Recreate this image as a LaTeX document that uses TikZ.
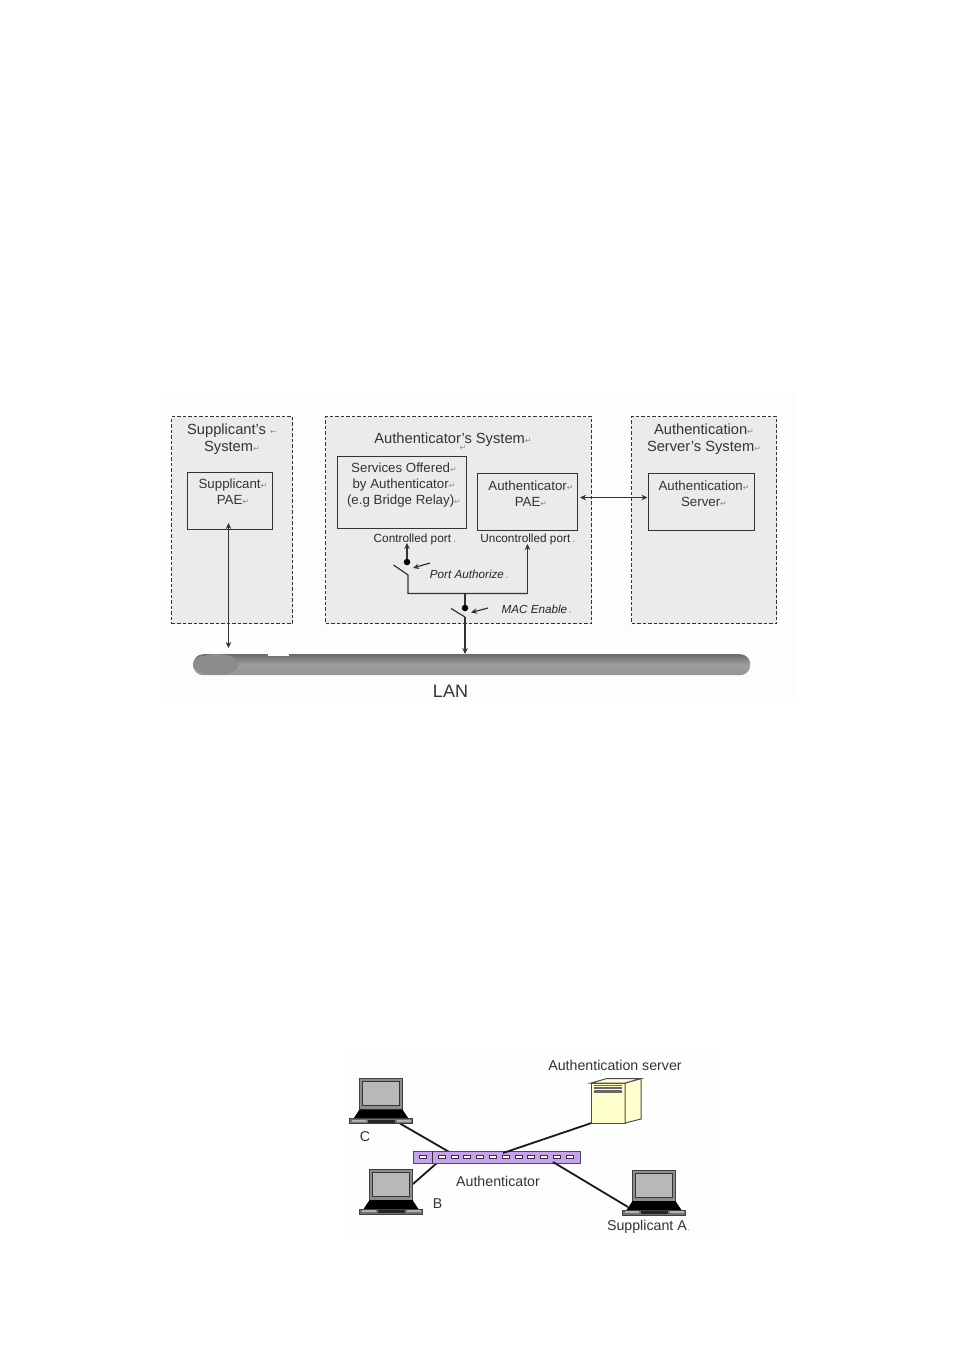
\documentclass[tikz,border=0pt]{standalone}
\usepackage{fontspec}
\setmainfont{Liberation Sans}
\newfontfamily\markfont{DejaVu Sans}
\usetikzlibrary{arrows.meta,shapes.geometric}
\newcommand{\rt}{{\markfont\fontsize{8}{8}\selectfont\textcolor{black!45}{↵}}}
\definecolor{panel}{HTML}{EBEBEB}
\definecolor{linec}{HTML}{333333}
\definecolor{purp}{HTML}{C9A0F0}
\definecolor{cream}{HTML}{FFFFCC}
\tikzset{
  sysbox/.style={draw=linec,fill=panel,dash pattern=on 3.5pt off 2pt,line width=1pt},
  inbox/.style={draw=linec,line width=1.2pt,fill=panel},
  lbl/.style={inner sep=0,align=center,font=\fontsize{14.7}{17}\selectfont,text=black!80},
  boxt/.style={inner sep=0,align=center,anchor=north,font=\fontsize{13.3}{16}\selectfont,text=black!80},
  sml/.style={inner sep=0,font=\fontsize{11.8}{14}\selectfont,text=black!85},
  ital/.style={inner sep=0,font=\itshape\fontsize{11.7}{14}\selectfont,text=black!85},
  lab/.style={inner sep=0,font=\fontsize{14.2}{16}\selectfont,text=black!80},
  wire/.style={draw=linec,line width=1.2pt},
  tip/.style={wire,-{Stealth[length=6pt,width=5.5pt]}},
  tips/.style={wire,{Stealth[length=6pt,width=5.5pt]}-{Stealth[length=6pt,width=5.5pt]}},
  cable/.style={draw=black!90,line width=1.8pt},
  dotn/.style={circle,fill=black,inner sep=0,minimum size=6.5pt},
  laptop/.pic={
    \draw[black!75,line width=1pt,fill=black!45] (0,0) rectangle (43,31);
    \draw[black!80,fill=black!28,line width=1pt] (3,3) rectangle (40,27);
    \fill[black] (0,31) -- (43,31) -- (49,40) -- (-6,40) -- cycle;
    \fill[black!55] (-10,40) -- (53,40) -- (53,45) -- (-10,45) -- cycle;
    \draw[black!75,line width=.8pt] (-10,40) -- (53,40) -- (53,45) -- (-10,45) -- cycle;
    \fill[black!85] (8,41) rectangle (35,44);
    \fill[black!30] (-8,41) rectangle (6,43);
    \fill[black!30] (37,41) rectangle (51,43);
  }
}
\begin{document}
\begin{tikzpicture}[x=1pt,y=-1pt]
\useasboundingbox (0,0) rectangle (954,1349);
\fill[white] (0,0) rectangle (954,1349);
\fill[black!.8] (160,392) rectangle (795,700);
\fill[black!.5] (345,1047) rectangle (717,1240);

% panels
\node[sysbox,minimum width=121pt,minimum height=207pt,inner sep=0,anchor=north west] (supsys) at (171,416) {};
\node[sysbox,minimum width=266pt,minimum height=207pt,inner sep=0,anchor=north west] (authsys) at (325,416) {};
\node[sysbox,minimum width=145pt,minimum height=207pt,inner sep=0,anchor=north west] (servsys) at (631,416) {};

\node[lbl] (t1) at (232,439) {Supplicant's \textcolor{black!45}{\markfont\fontsize{8}{8}\selectfont ←}\\System\rt};
\node[lbl] (t2) at (453,439.5) {Authenticator's System\rt};
\node[inner sep=0] (t2m) at (463,448) {\rt};
\node[lbl] (t3) at (704,439) {Authentication\rt\\Server's System\rt};

% inner boxes
\node[inbox,minimum width=85pt,minimum height=57pt,inner sep=0,anchor=north west] (suppae) at (187,472) {};
\node[boxt] (suppaet) at (233,479) {Supplicant\rt\\PAE\rt};
\node[inbox,minimum width=128.5pt,minimum height=72.5pt,inner sep=0,anchor=north west] (serv) at (337,455.5) {};
\node[boxt] (servt) at (404,463) {Services Offered\rt\\by Authenticator\rt\\(e.g Bridge Relay)\rt};
\node[inbox,minimum width=100pt,minimum height=57pt,inner sep=0,anchor=north west] (authpae) at (476.5,473) {};
\node[boxt] (authpaet) at (531,481) {Authenticator\rt\\PAE\rt};
\node[inbox,minimum width=106pt,minimum height=57pt,inner sep=0,anchor=north west] (authsrv) at (647.5,473) {};
\node[boxt] (authsrvt) at (704,481) {Authentication\rt\\Server\rt};

\node[sml] (cport) at (415,539.5) {Controlled port\,\textcolor{black!45}{.}};
\node[sml] (uport) at (528,539.5) {Uncontrolled port\,\textcolor{black!45}{.}};
\node[ital] (pa) at (469.5,574) {Port Authorize\,\textcolor{black!45}{.}};
\node[ital] (me) at (537,609) {MAC Enable\,\textcolor{black!45}{.}};

% LAN bus
\node[inner sep=0,minimum width=557pt,minimum height=21pt,rounded corners=10pt,top color=black!58,bottom color=black!42,middle color=black!38,anchor=north west] (lan) at (193,654) {};
\fill[black!1] (268,652) rectangle (289,655.5);
\node[ellipse,fill=black!45,inner sep=0,minimum width=46pt,minimum height=21pt] (lanend) at (216,664.5) {};
\node[lab,font=\fontsize{18}{20}\selectfont] (lant) at (450.5,691) {LAN};

% switches
\coordinate (sw1a) at (393.5,565);
\coordinate (sw1b) at (408,575);
\coordinate (sw1c) at (408,593.5);
\coordinate (junc) at (465,593.5);
\coordinate (upc) at (527.5,593.5);
\node[dotn] (d1) at (407,562) {};
\node[dotn] (d2) at (465,608) {};
\coordinate (sw2a) at (451,608.5);
\coordinate (sw2b) at (465,617);
\coordinate (d1t) at (407,543);
\coordinate (uc) at (527.5,544);
\draw[tip] (d1) -- (d1t);
\draw[wire] (sw1a) -- (sw1b) -- (sw1c) -- (upc);
\draw[tip] (upc) -- (uc);
\draw[wire] (junc) -- (d2);
\draw[wire] (sw2a) -- (sw2b);
\coordinate (lanp2) at (465,654);
\draw[tip] (sw2b) -- (lanp2);
\coordinate (pa1) at (430,563);
\coordinate (pa2) at (413,568);
\draw[tip] (pa1) -- (pa2);
\coordinate (me1) at (488,608);
\coordinate (me2) at (471,612.5);
\draw[tip] (me1) -- (me2);

% long arrows
\coordinate (sp1) at (228.5,523);
\coordinate (sp2) at (228.5,648);
\draw[tips] (sp1) -- (sp2);
\coordinate (ap1) at (580,497.5);
\draw[tips] (ap1) -- (authsrv.west |- ap1);

% lower figure: cables
\coordinate (cS) at (400,1123.5);
\coordinate (cSw) at (451,1153);
\coordinate (bS) at (413,1184);
\coordinate (bSw) at (438,1162);
\draw[cable] (cS) -- (cSw);
\draw[cable] (bS) -- (bSw);
\node[draw=black!70,fill=purp,line width=1pt,minimum width=167pt,minimum height=12pt,inner sep=0,anchor=north west] (switch) at (413,1151) {};
\fill[white,draw=black!80,line width=.5pt] (419,1155.5) rectangle (426,1158);
\foreach \x in {441.5,454.3,467.1,479.9,492.7,505.5,518.3,531.1,543.9,556.7,569.5}{\fill[white,draw=black!80,line width=.5pt] (\x-3.5,1155.5) rectangle (\x+3.5,1158);}
\draw[black!80,line width=1pt] (432,1151) -- (432,1163);

% server
\coordinate (srvc) at (591.5,1123);
\coordinate (srvsw) at (503,1153);
\draw[cable] (srvc) -- (srvsw);
\draw[draw=black!70,fill=cream,line width=1pt] (591,1083) -- (625,1083) -- (625,1123) -- (591,1123) -- cycle;
\draw[draw=black!70,fill=cream,line width=1pt] (625,1083) -- (641,1078.5) -- (641,1119) -- (625,1123) -- cycle;
\draw[draw=black!70,fill=cream!70!white,line width=1pt] (591,1083) -- (607,1078.5) -- (641,1078.5) -- (625,1083) -- cycle;
\fill[black!60] (593.5,1084.5) rectangle (622,1092.5);
\foreach \y in {1086.5,1089}{\draw[cream,line width=.5pt] (593.5,\y) -- (622,\y);}

% laptops
\pic (lapC) at (359.5,1078.5) {laptop};
\pic (lapB) at (369.5,1169) {laptop};
\pic (lapA) at (632.5,1170) {laptop};
\coordinate (aSa) at (628,1207);
\coordinate (aSw) at (553,1162);
\draw[cable] (aSw) -- (aSa);

\node[lab] (aserv) at (615,1065.5) {Authentication server};
\node[lab] (authn) at (498,1181.5) {Authenticator};
\node[lab] (cn) at (365,1137) {C};
\node[lab] (bn) at (437.5,1203.5) {B};
\node[lab] (san) at (648.5,1227) {Supplicant A\textcolor{black!45}{\fontsize{7}{7}\selectfont\,,}};
\end{tikzpicture}
\end{document}
